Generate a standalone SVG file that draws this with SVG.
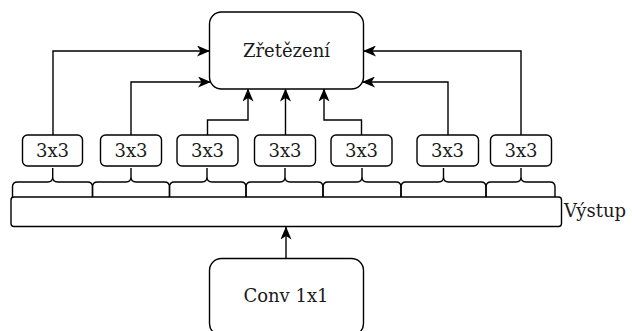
<svg xmlns="http://www.w3.org/2000/svg" width="632" height="331" viewBox="0 0 632 331">
  <defs>
    <marker id="arrow" viewBox="0 0 13 11" refX="12.5" refY="5.5" markerWidth="13" markerHeight="11" markerUnits="userSpaceOnUse" orient="auto">
      <path d="M0,0 L13,5.5 L0,11 L3.5,5.5 z" fill="#000"/>
    </marker>
  </defs>
  <style>
    .box { fill: #fff; stroke: #000; stroke-width: 1.4; }
    .brace { fill: none; stroke: #000; stroke-width: 1.4; }
    .edge { fill: none; stroke: #000; stroke-width: 1.4; marker-end: url(#arrow); }
    text { font-family: "DejaVu Serif", serif; font-size: 18px; fill: #1a1a1a; }
  </style>
  <rect width="632" height="331" fill="#fff"/>

  <!-- connectors -->
  <g id="connectors">
    <path class="edge" d="M53,135 V51 H209.5"/>
    <path class="edge" d="M131,135 V82 H210.5"/>
    <path class="edge" d="M207.5,135 V120 H248 V89"/>
    <path class="edge" d="M285.5,135 V89"/>
    <path class="edge" d="M361.5,135 V120 H324 V89"/>
    <path class="edge" d="M448,135 V82 H362.5"/>
    <path class="edge" d="M521,135 V51 H363.5"/>
    <path class="edge" d="M286,258.5 V227"/>
  </g>

  <!-- concatenation node -->
  <g id="concat">
    <rect class="box" x="209.5" y="12" width="154" height="77" rx="12"/>
    <text x="286.5" y="57" text-anchor="middle">Zřetězení</text>
  </g>

  <!-- 3x3 convolution nodes -->
  <g id="conv3x3-1"><rect class="box" x="22.5" y="135" width="60" height="31" rx="5"/><text x="52.5" y="157" text-anchor="middle">3x3</text></g>
  <g id="conv3x3-2"><rect class="box" x="100.5" y="135" width="61" height="31" rx="5"/><text x="131" y="157" text-anchor="middle">3x3</text></g>
  <g id="conv3x3-3"><rect class="box" x="177" y="135" width="61" height="31" rx="5"/><text x="207.5" y="157" text-anchor="middle">3x3</text></g>
  <g id="conv3x3-4"><rect class="box" x="254.5" y="135" width="61" height="31" rx="5"/><text x="285" y="157" text-anchor="middle">3x3</text></g>
  <g id="conv3x3-5"><rect class="box" x="331" y="135" width="61" height="31" rx="5"/><text x="361.5" y="157" text-anchor="middle">3x3</text></g>
  <g id="conv3x3-6"><rect class="box" x="417" y="135" width="61.5" height="31" rx="5"/><text x="447.5" y="157" text-anchor="middle">3x3</text></g>
  <g id="conv3x3-7"><rect class="box" x="490.5" y="135" width="61" height="31" rx="5"/><text x="521" y="157" text-anchor="middle">3x3</text></g>

  <!-- braces splitting the output channels into groups -->
  <g id="braces">
    <path class="brace" d="M12.5,197 V187 Q12.5,182 17.5,182 H47.7 Q52.7,182 52.7,177 V168 M52.7,177 Q52.7,182 57.7,182 H87.5 Q92.5,182 92.5,187 V197"/>
    <path class="brace" d="M92.5,197 V187 Q92.5,182 97.5,182 H126 Q131,182 131,177 V168 M131,177 Q131,182 136,182 H164.5 Q169.5,182 169.5,187 V197"/>
    <path class="brace" d="M169.5,197 V187 Q169.5,182 174.5,182 H202 Q207,182 207,177 V168 M207,177 Q207,182 212,182 H241 Q246,182 246,187 V197"/>
    <path class="brace" d="M246,197 V187 Q246,182 251,182 H280 Q285,182 285,177 V168 M285,177 Q285,182 290,182 H318 Q323,182 323,187 V197"/>
    <path class="brace" d="M323,197 V187 Q323,182 328,182 H357 Q362,182 362,177 V168 M362,177 Q362,182 367,182 H396 Q401,182 401,187 V197"/>
    <path class="brace" d="M401,197 V187 Q401,182 406,182 H438.5 Q443.5,182 443.5,177 V168 M443.5,177 Q443.5,182 448.5,182 H481 Q486,182 486,187 V197"/>
    <path class="brace" d="M486,197 V187 Q486,182 491,182 H516 Q521,182 521,177 V168 M521,177 Q521,182 526,182 H550 Q555,182 555,187 V197"/>
  </g>

  <!-- output tensor -->
  <g id="output">
    <rect class="box" x="11" y="197" width="550.5" height="29.5" rx="3"/>
    <text x="564" y="217" text-anchor="start">Výstup</text>
  </g>

  <!-- 1x1 convolution node -->
  <g id="conv1x1">
    <rect class="box" x="209.5" y="258.5" width="154" height="77" rx="12"/>
    <text x="286" y="302" text-anchor="middle">Conv 1x1</text>
  </g>
</svg>
